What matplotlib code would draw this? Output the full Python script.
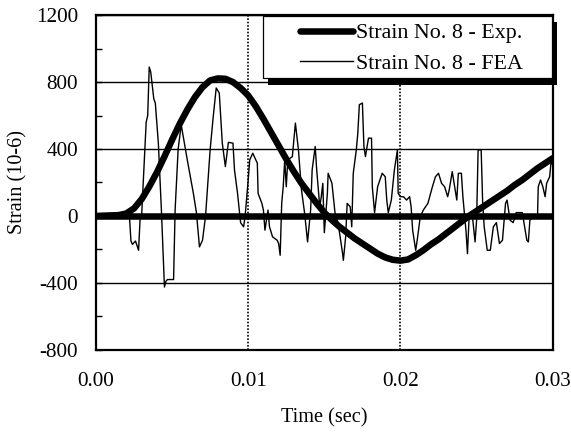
import numpy as np
import matplotlib
matplotlib.use("Agg")
import matplotlib.pyplot as plt
from matplotlib.patches import Rectangle
from matplotlib.ticker import MultipleLocator, FormatStrFormatter

plt.rcParams['font.family'] = ['Liberation Serif', 'DejaVu Serif']
plt.rcParams['axes.unicode_minus'] = False

# measured strain (thick curve), time in ms
exp_time_ms = [0.0, 1.5, 2.0, 2.5, 3.0, 3.5, 4.0, 4.5, 5.0, 5.5,
               6.0, 6.5, 7.0, 7.5, 8.0, 8.5, 9.0, 9.5, 10.0, 10.5,
               11.0, 11.5, 12.0, 12.5, 13.0, 13.5, 14.0, 14.5, 15.0, 15.5,
               16.0, 16.5, 17.0, 17.5, 18.0, 18.5, 19.0, 19.5, 20.0, 20.5,
               21.0, 21.5, 22.0, 22.5, 23.0, 23.5, 24.0, 24.5, 25.0, 25.5,
               26.0, 26.5, 27.0, 27.5, 28.0, 28.5, 29.0, 29.5, 30.0]
exp_strain = [0, 5, 15, 45, 100, 175, 260, 355, 455, 550,
              635, 710, 770, 810, 822, 820, 800, 765, 720, 655,
              580, 500, 420, 340, 265, 195, 135, 75, 20, -25,
              -65, -100, -135, -165, -195, -225, -248, -262, -267, -260,
              -235, -205, -170, -140, -105, -70, -35, 0, 30, 60,
              90, 120, 150, 185, 215, 250, 285, 315, 345]

# FEA strain (thin curve), time in ms
fea_time_ms = [0.0, 0.9, 1.6, 2.0, 2.2, 2.3, 2.4, 2.6, 2.8, 2.9,
               3.0, 3.3, 3.4, 3.5, 3.6, 3.8, 3.9, 4.1, 4.3, 4.5,
               4.6, 4.7, 5.1, 5.2, 5.4, 5.6, 6.0, 6.4, 6.6, 6.8,
               7.0, 7.2, 7.5, 7.7, 7.9, 8.1, 8.3, 8.5, 8.7, 9.0,
               9.1, 9.3, 9.5, 9.7, 9.8, 10.0, 10.1, 10.3, 10.6, 10.65,
               10.9, 11.0, 11.1, 11.3, 11.4, 11.6, 11.9, 12.0, 12.1, 12.2,
               12.3, 12.4, 12.5, 12.6, 12.9, 13.1, 13.3, 13.5, 13.7, 13.9,
               14.1, 14.2, 14.4, 14.5, 14.7, 14.8, 14.9, 15.0, 15.2, 15.25,
               15.5, 15.7, 15.9, 16.2, 16.25, 16.4, 16.5, 16.7, 16.8, 16.9,
               17.1, 17.2, 17.3, 17.5, 17.6, 17.7, 17.9, 18.1, 18.15, 18.3,
               18.5, 18.8, 19.0, 19.1, 19.2, 19.4, 19.6, 19.8, 19.85, 20.0,
               20.2, 20.4, 20.6, 20.7, 20.8, 21.0, 21.1, 21.3, 21.5, 21.8,
               22.1, 22.3, 22.5, 22.7, 22.9, 23.1, 23.2, 23.4, 23.7, 23.8,
               24.0, 24.1, 24.3, 24.4, 24.5, 24.7, 24.9, 25.0, 25.1, 25.3,
               25.4, 25.5, 25.7, 25.9, 26.1, 26.3, 26.5, 26.7, 26.9, 27.0,
               27.2, 27.4, 27.6, 27.8, 28.0, 28.3, 28.4, 28.5, 28.7, 29.0,
               29.05, 29.2, 29.35, 29.5, 29.6, 29.8, 29.9, 30.0]
fea_strain = [0, 5, -5, 10, 0, -150, -170, -150, -205, -20,
              0, 560, 600, 890, 860, 700, 675, 435, 35, -425,
              -390, -380, -380, 35, 400, 545, 335, 135, 20, -185,
              -145, 0, 395, 590, 765, 735, 435, 295, 440, 435,
              275, 135, -40, -65, 0, 215, 335, 375, 315, 135,
              75, 35, -85, 35, -65, -125, -145, -165, -235, 75,
              175, 335, 175, 335, 355, 555, 395, 155, 20, -155,
              35, 275, 415, 275, 55, 115, 195, -100, 135, 255,
              195, 20, -40, -225, -265, -125, 75, 55, -65, 255,
              395, 495, 665, 675, 415, 355, 465, 465, 175, 20,
              175, 255, 235, 95, 20, 95, 275, 395, 135, 115,
              115, 95, 115, 55, -85, -205, -145, -5, 35, 75,
              175, 235, 255, 195, 175, 115, 155, 265, 95, 255,
              255, 115, -85, -225, -25, 20, -155, -25, 395, 395,
              75, -65, -205, -205, -65, -40, -165, -145, 75, 95,
              -25, -40, 20, 20, 20, -145, -155, -25, -5, -5,
              175, 215, 175, 115, 195, 235, 335, 300]

# zero baseline drawn heavy in the original
base_time_ms = [0.0, 30.0]
base_strain = [0, 0]

labels = ['Strain No. 8 - Exp.', 'Strain No. 8 - FEA']

fig = plt.figure(figsize=(5.71, 4.34), dpi=100)
ax = fig.add_axes([0.168, 0.194, 0.800, 0.771])

ms = 1e-3
ax.plot(np.array(fea_time_ms) * ms, fea_strain, color='black', lw=1.0,
        label=labels[1], zorder=3)
ax.plot(np.array(base_time_ms) * ms, base_strain, color='black', lw=4.7,
        zorder=4)
ax.plot(np.array(exp_time_ms) * ms, exp_strain, color='black', lw=4.7,
        solid_capstyle='round', label=labels[0], zorder=4)

ax.set_xlim(0, 0.03)
ax.set_ylim(-800, 1200)
ax.xaxis.set_major_locator(MultipleLocator(0.01))
ax.xaxis.set_major_formatter(FormatStrFormatter('%.2f'))
ax.yaxis.set_major_locator(MultipleLocator(400))
ax.yaxis.set_minor_locator(MultipleLocator(200))

ax.yaxis.grid(True, which='major', color='black', lw=1.0, ls='-')
ax.xaxis.grid(True, which='major', color='black', lw=1.2, ls=(0, (1, 1)))
ax.set_axisbelow(True)

ax.tick_params(axis='x', which='both', length=0, pad=16, labelsize=15.2)
ax.tick_params(axis='y', which='major', direction='in', length=4,
               width=1, pad=13, labelsize=15.2)
ax.tick_params(axis='y', which='minor', direction='in', length=4, width=1)

for s in ax.spines.values():
    s.set_linewidth(1.6)

ax.set_xlabel('Time (sec)', fontsize=14.6)
ax.set_ylabel('Strain (10-6)', fontsize=14.6)
ax.xaxis.set_label_coords(0.5, -0.203)
ax.xaxis.label.set_va('center')
ax.yaxis.set_label_coords(-0.171, 0.5)
ax.yaxis.label.set_va('center')

# legend box with a solid drop shadow
ax.add_patch(Rectangle((0.3764, 0.791), 0.6324, 0.188, transform=ax.transAxes,
                       facecolor='black', edgecolor='none', clip_on=False,
                       zorder=6))
ax.add_patch(Rectangle((0.3654, 0.8119), 0.6324, 0.1851, transform=ax.transAxes,
                       facecolor='white', edgecolor='black', lw=0.9,
                       clip_on=False, zorder=7))
h, l = ax.get_legend_handles_labels()
leg = ax.legend(h[::-1], l[::-1], loc='upper left',
                bbox_to_anchor=(0.4464, 0.977), frameon=False,
                borderpad=0, borderaxespad=0, handlelength=2.42,
                handletextpad=0.14, labelspacing=0.46, fontsize=15.8)
leg.set_zorder(8)

fig.savefig('out.png', dpi=100)
